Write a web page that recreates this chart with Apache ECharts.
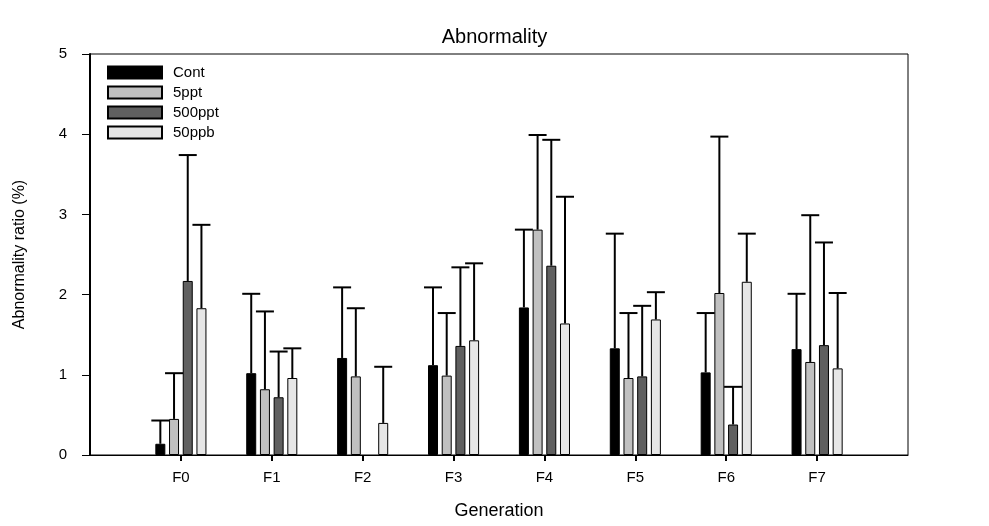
<!DOCTYPE html>
<html>
<head>
<meta charset="utf-8">
<script src="https://cdn.jsdelivr.net/npm/echarts@6/dist/echarts.min.js"></script>
<style>html,body{margin:0;padding:0;background:#fff;}#c{width:989px;height:526px;}</style>
</head>
<body>
<div id="c"></div>
<script>
var categories = ['F0', 'F1', 'F2', 'F3', 'F4', 'F5', 'F6', 'F7'];
var seriesNames = ['Cont', '5ppt', '500ppt', '50ppb'];
var contMean = [0.14, 1.02, 1.21, 1.12, 1.84, 1.33, 1.03, 1.32];
var contErr = [0.43, 2.01, 2.09, 2.09, 2.81, 2.76, 1.77, 2.01];
var ppt5Mean = [0.45, 0.82, 0.98, 0.99, 2.81, 0.96, 2.02, 1.16];
var ppt5Err = [1.02, 1.79, 1.83, 1.77, 3.99, 1.77, 3.97, 2.99];
var ppt500Mean = [2.17, 0.72, null, 1.36, 2.36, 0.98, 0.38, 1.37];
var ppt500Err = [3.74, 1.29, null, 2.34, 3.93, 1.86, 0.85, 2.65];
var ppb50Mean = [1.83, 0.96, 0.40, 1.43, 1.64, 1.69, 2.16, 1.08];
var ppb50Err = [2.87, 1.33, 1.10, 2.39, 3.22, 2.03, 2.76, 2.02];
var yTicks = [0, 1, 2, 3, 4, 5];

var colors = ['#000000', '#c0c0c0', '#606060', '#e6e6e6'];
var means = [contMean, ppt5Mean, ppt500Mean, ppb50Mean];
var errs = [contErr, ppt5Err, ppt500Err, ppb50Err];

// padded category axis: empty slot before F0 and after F7
var axisCats = [''].concat(categories).concat(['']);
var BAR_W = 10, GAP = 3.7;

var series = [];
seriesNames.forEach(function (name, s) {
  series.push({
    name: name,
    type: 'bar',
    barWidth: BAR_W,
    barGap: (GAP / BAR_W * 100) + '%',
    itemStyle: { color: colors[s], borderColor: '#000', borderWidth: 1 },
    data: [null].concat(means[s].map(function (v) { return v == null ? '-' : v; })).concat([null]),
    z: 2
  });
});
seriesNames.forEach(function (name, s) {
  var d = [];
  means[s].forEach(function (v, i) {
    if (v != null && errs[s][i] != null) d.push([i + 1, v, errs[s][i]]);
  });
  series.push({
    type: 'custom',
    silent: true,
    z: 3,
    renderItem: function (params, api) {
      var off = (s - 1.5) * (BAR_W + GAP);
      var p1 = api.coord([api.value(0), api.value(1)]);
      var p2 = api.coord([api.value(0), api.value(2)]);
      var x = p1[0] + off;
      var st = { stroke: '#000', lineWidth: 2 };
      return {
        type: 'group',
        children: [
          { type: 'line', shape: { x1: x, y1: p1[1], x2: x, y2: p2[1] }, style: st },
          { type: 'line', shape: { x1: x - 9, y1: p2[1], x2: x + 9, y2: p2[1] }, style: st }
        ]
      };
    },
    data: d
  });
});

var chart = echarts.init(document.getElementById('c'), null, { renderer: 'canvas' });
chart.setOption({
  animation: false,
  backgroundColor: '#fff',
  textStyle: { fontFamily: 'Liberation Sans, Arial, sans-serif', color: '#000' },
  title: {
    text: 'Abnormality',
    left: 'center',
    top: 22,
    textStyle: { fontFamily: 'Liberation Sans, Arial, sans-serif', fontSize: 20, fontWeight: 'normal', color: '#000' }
  },
  legend: {
    orient: 'vertical',
    left: 107,
    top: 65,
    padding: 0,
    itemWidth: 54,
    itemHeight: 12,
    itemGap: 5,
    icon: 'rect',
    data: seriesNames,
    textStyle: { fontFamily: 'Liberation Sans, Arial, sans-serif', fontSize: 15, color: '#000', lineHeight: 12, padding: [0, 0, 0, 6] }
  },
  grid: {
    left: 90, right: 81, top: 54, bottom: 71,
    show: true, borderColor: '#000', borderWidth: 1, backgroundColor: 'transparent'
  },
  xAxis: {
    type: 'category',
    data: axisCats,
    boundaryGap: false,
    name: 'Generation',
    nameLocation: 'middle',
    nameGap: 47,
    nameTextStyle: { fontFamily: 'Liberation Sans, Arial, sans-serif', fontSize: 18, color: '#000' },
    axisLine: { lineStyle: { color: '#000', width: 1 } },
    axisTick: {
      show: true, length: 6, lineStyle: { color: '#000', width: 2 },
      interval: function (i) { return i > 0 && i < axisCats.length - 1; }
    },
    axisLabel: {
      interval: 0, margin: 15, fontSize: 15, color: '#000',
      fontFamily: 'Liberation Sans, Arial, sans-serif'
    },
    splitLine: { show: false }
  },
  yAxis: {
    type: 'value',
    min: yTicks[0],
    max: yTicks[yTicks.length - 1],
    interval: 1,
    name: 'Abnormality ratio (%)',
    nameLocation: 'middle',
    nameGap: 62,
    nameTextStyle: { fontFamily: 'Liberation Sans, Arial, sans-serif', fontSize: 16, color: '#000' },
    axisLine: { show: true, lineStyle: { color: '#000', width: 2 } },
    axisTick: { show: true, length: 8, lineStyle: { color: '#000', width: 1 } },
    axisLabel: { margin: 23, fontSize: 15, color: '#000', fontFamily: 'Liberation Sans, Arial, sans-serif' },
    splitLine: { show: false }
  },
  series: series
});
</script>
</body>
</html>
